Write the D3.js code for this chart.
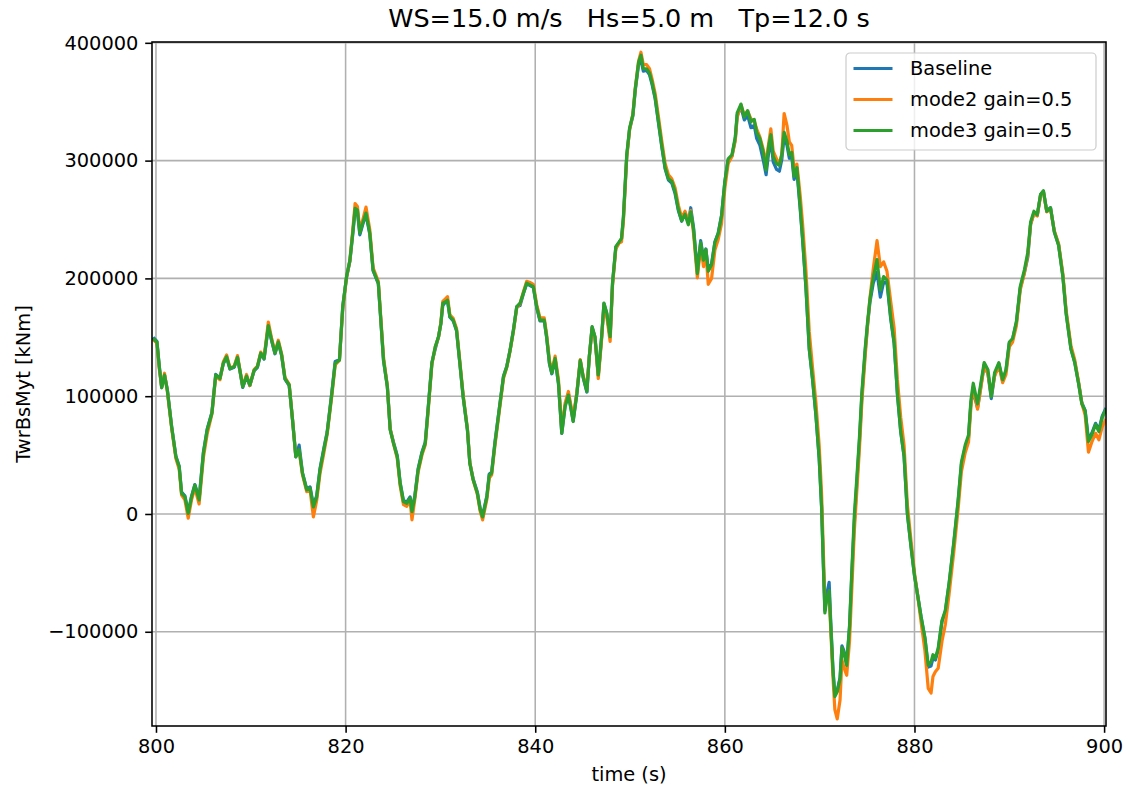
<!DOCTYPE html>
<html>
<head>
<meta charset="utf-8">
<script src="https://cdn.jsdelivr.net/npm/d3@7"></script>
<style>
  body { margin: 0; background: #fff; }
  svg { display: block; font-family: "DejaVu Sans", sans-serif; }
</style>
</head>
<body>
<svg id="chart" width="1130" height="791"></svg>
<script>
// time axis (s), shared by all three runs
const time = [
  799.7, 800.1, 800.35, 800.6, 800.9, 801.2, 801.65, 802.1, 802.45, 802.7,
  803.05, 803.4, 803.75, 804.1, 804.55, 805.0, 805.4, 805.9, 806.3, 806.75,
  807.1, 807.45, 807.8, 808.25, 808.6, 808.85, 809.15, 809.55, 809.9, 810.35,
  810.7, 811.05, 811.4, 811.85, 812.2, 812.55, 812.9, 813.25, 813.6, 814.05,
  814.4, 814.75, 815.1, 815.45, 815.9, 816.25, 816.6, 816.95, 817.3, 817.7,
  818.05, 818.55, 818.9, 819.35, 819.7, 820.1, 820.45, 820.75, 821.0, 821.25,
  821.5, 821.85, 822.15, 822.55, 822.9, 823.45, 824.0, 824.4, 824.7, 825.05,
  825.45, 825.75, 826.1, 826.45, 826.8, 827.0, 827.3, 827.65, 828.05, 828.4,
  828.7, 829.1, 829.45, 829.8, 830.05, 830.25, 830.5, 830.75, 831.0, 831.35,
  831.7, 832.05, 832.4, 832.85, 833.1, 833.45, 833.9, 834.2, 834.45, 834.9,
  835.15, 835.4, 835.75, 836.2, 836.65, 837.0, 837.35, 837.7, 838.05, 838.4,
  838.75, 839.1, 839.45, 839.8, 840.15, 840.5, 840.95, 841.2, 841.5, 841.75,
  842.1, 842.45, 842.8, 843.15, 843.5, 843.85, 844.0, 844.4, 844.75, 845.05,
  845.45, 845.7, 846.0, 846.3, 846.65, 847.0, 847.25, 847.55, 847.9, 848.15,
  848.5, 848.85, 849.1, 849.3, 849.65, 849.95, 850.3, 850.55, 850.9, 851.15,
  851.4, 851.75, 852.05, 852.3, 852.65, 853.0, 853.35, 853.7, 854.05, 854.4,
  854.75, 855.1, 855.45, 855.8, 856.15, 856.4, 856.7, 857.1, 857.45, 857.75,
  858.0, 858.25, 858.6, 858.95, 859.3, 859.65, 860.0, 860.35, 860.75, 861.1,
  861.3, 861.7, 862.05, 862.4, 862.75, 863.1, 863.35, 863.7, 864.05, 864.35,
  864.6, 864.85, 865.1, 865.45, 865.75, 866.0, 866.25, 866.55, 866.8, 867.05,
  867.3, 867.6, 867.95, 868.2, 868.55, 868.9, 869.25, 869.6, 869.95, 870.2,
  870.4, 870.55, 870.75, 871.0, 871.15, 871.4, 871.6, 871.85, 872.15, 872.35,
  872.55, 872.85, 873.15, 873.4, 873.65, 873.9, 874.2, 874.45, 874.8, 875.05,
  875.3, 875.65, 876.05, 876.4, 876.75, 877.1, 877.5, 877.85, 878.2, 878.55,
  878.9, 879.25, 879.65, 880.0, 880.35, 880.7, 881.1, 881.45, 881.75, 881.95,
  882.2, 882.5, 882.9, 883.25, 883.65, 884.15, 884.6, 884.95, 885.35, 885.7,
  885.95, 886.2, 886.65, 887.0, 887.35, 887.75, 888.1, 888.45, 888.9, 889.3,
  889.65, 890.0, 890.35, 890.75, 891.15, 891.6, 891.95, 892.25, 892.6, 892.95,
  893.3, 893.6, 893.95, 894.35, 894.75, 895.2, 895.65, 896.0, 896.5, 896.9,
  897.3, 897.65, 898.0, 898.35, 898.7, 899.1, 899.45, 899.8, 900.2
];

// TwrBsMyt [kNm]
const baseline = [
  150000, 146500, 125500, 107500, 118000, 105500, 74500, 49000, 40500, 18500,
  15500, 1500, 15000, 25000, 13000, 52500, 72000, 86500, 118500, 115500,
  127500, 133000, 123000, 124500, 132500, 121500, 107500, 116500, 109000, 121500,
  124500, 136000, 131500, 159000, 147000, 136000, 145500, 134500, 114500, 109000,
  80000, 48500, 58500, 35000, 21000, 23000, 7500, 15500, 38500, 55500,
  69500, 103500, 129500, 131000, 176500, 201000, 214500, 237000, 257500, 256000,
  237000, 247000, 254000, 237500, 206500, 195500, 130000, 108500, 72000, 61000,
  49500, 27000, 11500, 10000, 14500, 3000, 15500, 38500, 52500, 61000,
  89500, 128500, 140000, 150500, 161500, 177000, 179500, 181000, 167000, 164000,
  155500, 127500, 99000, 71000, 43500, 30000, 18500, 4500, -1500, 15500,
  34000, 35500, 61000, 89000, 117000, 125500, 139500, 156500, 176000, 177000,
  187000, 195500, 194000, 192500, 175500, 164000, 164000, 150000, 127500, 119000,
  131500, 110500, 68500, 92000, 102000, 86000, 79000, 103000, 130000, 116000,
  103500, 133500, 158500, 150000, 117500, 150000, 178500, 170000, 150000, 195500,
  226500, 230500, 233500, 251000, 303500, 326500, 338000, 359500, 381500, 385500,
  376000, 376500, 373000, 365500, 352500, 332000, 311500, 293000, 283500, 281000,
  272000, 257500, 248500, 256000, 247000, 260000, 243000, 206000, 232000, 216500,
  225000, 207500, 212500, 231000, 238500, 253500, 282000, 300500, 304000, 318500,
  338500, 345500, 334500, 338500, 328000, 330000, 319000, 313000, 300500, 288000,
  305500, 318000, 299000, 292500, 291000, 300500, 320500, 313000, 302000, 304000,
  284000, 291500, 258500, 232500, 192000, 140000, 114000, 84000, 47000, 6500,
  -45500, -82000, -68000, -58000, -88000, -131000, -154000, -150000, -139000, -112000,
  -116000, -127000, -96000, -50000, -8000, 24000, 62000, 100000, 138000, 160500,
  179500, 196000, 205000, 184000, 197000, 196000, 165000, 145000, 101500, 69500,
  49000, 500, -28500, -52000, -69500, -87500, -105500, -130000, -129000, -122500,
  -124000, -115500, -91500, -83000, -59500, -25000, 10000, 42000, 56500, 65000,
  94000, 104000, 90000, 108500, 126500, 119000, 98000, 117500, 127500, 113000,
  121500, 145000, 148500, 162500, 191500, 205000, 218000, 246000, 255500, 253500,
  271000, 274000, 257000, 260000, 239500, 228500, 202000, 170500, 140500, 129000,
  111500, 94500, 88000, 63000, 68500, 77000, 71500, 83000, 90000
];

const mode2 = [
  148000, 145000, 123000, 108000, 119500, 104000, 73000, 47000, 38000, 16000,
  12000, -3500, 12000, 22000, 8500, 48000, 68000, 85000, 117000, 114000,
  129000, 135000, 124000, 125500, 134500, 122500, 108500, 118500, 109000, 122500,
  125500, 137500, 132500, 163000, 149000, 137000, 147500, 136000, 116000, 110000,
  80500, 49000, 53500, 33500, 19000, 20500, -2500, 11500, 34500, 51500,
  67500, 100500, 126500, 130500, 174000, 201000, 215000, 240500, 263500, 261000,
  240500, 251000, 260500, 241500, 209000, 197500, 133000, 109000, 72500, 60000,
  47000, 24000, 8000, 6500, 11500, -5000, 12500, 35500, 50000, 58500,
  86500, 127000, 141500, 150000, 162500, 180500, 182500, 184500, 169000, 166000,
  157500, 129500, 101000, 72500, 44000, 29000, 16500, 2000, -5000, 12500,
  30500, 33000, 58000, 86500, 115000, 124500, 138500, 155000, 175000, 178500,
  188500, 197500, 196500, 195000, 178000, 166500, 166500, 152500, 130500, 121500,
  134000, 114000, 71500, 94000, 104000, 88000, 81000, 104000, 131000, 117500,
  107000, 133000, 157500, 150000, 115000, 148000, 176500, 167500, 146500, 193500,
  225000, 230000, 231000, 248500, 302500, 326000, 339500, 361000, 384500, 392000,
  381500, 381500, 378000, 370000, 357000, 337000, 316500, 297500, 288000, 284500,
  277000, 262000, 251500, 257000, 247500, 257500, 238000, 200500, 228000, 210000,
  222500, 195000, 200000, 224000, 233000, 246500, 276500, 297500, 303500, 317000,
  336500, 347500, 338500, 342000, 335500, 333500, 327000, 320000, 309500, 297000,
  313500, 327000, 308000, 301500, 297000, 305000, 340000, 330000, 316000, 313000,
  293500, 297000, 270000, 246000, 207000, 155000, 124000, 95000, 58000, 18000,
  -35000, -76000, -74000, -70500, -95000, -138000, -166000, -174000, -158000, -124000,
  -130000, -137000, -108000, -62000, -15000, 17000, 56000, 95000, 134000, 160000,
  183000, 208000, 232000, 210000, 214000, 206000, 180000, 158000, 114000, 82000,
  58500, 8000, -24000, -50000, -70000, -92000, -116000, -148000, -152000, -138000,
  -134000, -131000, -108000, -94000, -68000, -32000, 4000, 36000, 52000, 61000,
  91000, 108000, 89000, 107000, 126000, 119000, 101000, 117000, 126000, 111500,
  118500, 142000, 146000, 160000, 190000, 205000, 220000, 246000, 255000, 253000,
  270500, 273500, 256500, 259000, 240500, 229500, 204000, 172500, 143000, 131000,
  112500, 94000, 84000, 52500, 61000, 68500, 63000, 74000, 80500
];

const mode3 = [
  149000, 146000, 125000, 107000, 118000, 105000, 74000, 48500, 40000, 17500,
  14500, 500, 14500, 24500, 12000, 51500, 71500, 85500, 118000, 115000,
  128000, 133500, 123500, 125000, 133000, 122000, 108000, 117000, 109500, 122000,
  125000, 136500, 132000, 160000, 147500, 136500, 146000, 135000, 115000, 109500,
  80000, 48500, 54500, 34500, 20500, 22000, 6000, 14500, 37500, 54500,
  68500, 102500, 128000, 130500, 176000, 201500, 215500, 238500, 259500, 258000,
  238500, 248000, 255500, 238500, 207000, 196000, 130500, 108000, 71500, 60000,
  48500, 26000, 10500, 9000, 13500, 2000, 14500, 37500, 51500, 60000,
  88500, 128000, 142000, 150500, 162000, 179000, 180000, 181500, 167500, 164500,
  156000, 128000, 99500, 71500, 43000, 29000, 17500, 3500, -2500, 14500,
  33000, 34500, 60000, 88500, 116500, 125000, 139000, 156000, 176000, 179000,
  187500, 196000, 194500, 193000, 176000, 164500, 164500, 150500, 128000, 119500,
  132000, 111000, 68500, 91000, 101000, 85500, 78500, 102500, 130500, 116500,
  104000, 133500, 159000, 150500, 118000, 150500, 179000, 170500, 150500, 196000,
  227000, 231000, 234000, 252500, 305000, 327500, 339000, 361000, 383500, 389500,
  378000, 378000, 374500, 367000, 353500, 333000, 312500, 294000, 284500, 282500,
  273500, 258500, 249000, 254500, 245500, 256500, 241500, 204000, 230500, 215500,
  224500, 206000, 211500, 230500, 238000, 253000, 282500, 301500, 305000, 320000,
  340500, 348000, 337000, 342500, 333000, 335000, 324000, 318500, 307000, 292000,
  311000, 322000, 303500, 297500, 296000, 305000, 324000, 316500, 305000, 307000,
  286500, 294000, 260500, 234000, 193000, 140500, 114500, 84500, 47000, 6000,
  -46500, -84000, -72500, -65000, -91500, -132500, -155000, -151000, -140000, -113500,
  -117500, -128500, -95000, -46500, -1500, 28500, 66000, 103000, 140500, 163000,
  182000, 200500, 216000, 190000, 201500, 198500, 166500, 146000, 102000, 70000,
  49500, 0, -29000, -52500, -70000, -87500, -105000, -128500, -125500, -119500,
  -122500, -114000, -90500, -82000, -58500, -23500, 11500, 44000, 58500, 67000,
  96500, 111000, 93500, 111000, 128500, 122500, 99500, 120000, 128500, 114000,
  122500, 146000, 149000, 163500, 193000, 207500, 222000, 248000, 257000, 254000,
  271500, 274500, 257000, 260000, 239500, 228000, 201500, 169500, 140000, 128500,
  111000, 93500, 87500, 61500, 67000, 76000, 70000, 82000, 89000
];

const seriesNames = ["Baseline", "mode2 gain=0.5", "mode3 gain=0.5"];
const seriesColors = ["#1f77b4", "#ff7f0e", "#2ca02c"];
const xTicks = [800, 820, 840, 860, 880, 900];
const yTicks = [-100000, 0, 100000, 200000, 300000, 400000];
const titleText = "WS=15.0 m/s   Hs=5.0 m   Tp=12.0 s";

const FONT = 19.4;
const plot = {left: 152, right: 1106, top: 42, bottom: 726};

const svg = d3.select('#chart');

const x = d3.scaleLinear().domain([799.58, 900.2]).range([plot.left, plot.right]);
const y = d3.scaleLinear().domain([-180000, 400700]).range([plot.bottom, plot.top]);

// grid
var grid = svg.append('g');
grid.selectAll('line.vg').data(xTicks).enter().append('line')
  .attr('x1', d => x(d)).attr('x2', d => x(d))
  .attr('y1', plot.top).attr('y2', plot.bottom)
  .attr('stroke', '#b0b0b0').attr('stroke-width', 1.56);
grid.selectAll('line.hg').data(yTicks).enter().append('line')
  .attr('x1', plot.left).attr('x2', plot.right)
  .attr('y1', d => y(d)).attr('y2', d => y(d))
  .attr('stroke', '#b0b0b0').attr('stroke-width', 1.56);

svg.append('clipPath').attr('id', 'plotclip').append('rect')
  .attr('x', plot.left).attr('y', plot.top)
  .attr('width', plot.right - plot.left).attr('height', plot.bottom - plot.top);

const series = [baseline, mode2, mode3];
const line = d3.line().x((d, i) => x(time[i])).y(d => y(d));

svg.append('g').attr('clip-path', 'url(#plotclip)')
  .selectAll('path').data(series).enter().append('path')
  .attr('d', d => line(d))
  .attr('fill', 'none')
  .attr('stroke', (d, i) => seriesColors[i])
  .attr('stroke-width', 3.2)
  .attr('stroke-linejoin', 'round');

// axes
var xAxis = svg.append('g').attr('transform', `translate(0,${plot.bottom})`)
  .call(d3.axisBottom(x).tickValues(xTicks).tickSize(6.8).tickPadding(6.8).tickFormat(d3.format('d')));
var yAxis = svg.append('g').attr('transform', `translate(${plot.left},0)`)
  .call(d3.axisLeft(y).tickValues(yTicks).tickSize(6.8).tickPadding(6.8).tickFormat(d3.format('d')));
[xAxis, yAxis].forEach(ax => {
  ax.select('.domain').remove();
  ax.attr('font-family', '"DejaVu Sans", sans-serif').attr('font-size', FONT);
  ax.selectAll('line').attr('stroke', '#000').attr('stroke-width', 1.56);
  ax.selectAll('text').attr('fill', '#000');
});

// spines
svg.append('rect')
  .attr('x', plot.left).attr('y', plot.top)
  .attr('width', plot.right - plot.left).attr('height', plot.bottom - plot.top)
  .attr('fill', 'none').attr('stroke', '#000').attr('stroke-width', 1.56);

// labels
svg.append('text')
  .attr('x', (plot.left + plot.right) / 2).attr('y', 27)
  .attr('text-anchor', 'middle').attr('font-size', 25.5)
  .style('white-space', 'pre')
  .text(titleText);
svg.append('text')
  .attr('x', (plot.left + plot.right) / 2).attr('y', 781)
  .attr('text-anchor', 'middle').attr('font-size', FONT)
  .text('time (s)');
svg.append('text')
  .attr('transform', `translate(30,${(plot.top + plot.bottom) / 2}) rotate(-90)`)
  .attr('text-anchor', 'middle').attr('font-size', FONT)
  .text('TwrBsMyt [kNm]');

// legend
var legend = svg.append('g').attr('transform', 'translate(846,53)');
legend.append('rect')
  .attr('width', 250).attr('height', 97).attr('rx', 4)
  .attr('fill', '#fff').attr('fill-opacity', 0.8)
  .attr('stroke', '#cccccc').attr('stroke-width', 1.2);
var rows = legend.selectAll('g.row').data(seriesNames).enter().append('g')
  .attr('transform', (d, i) => `translate(0,${15.5 + i * 31})`);
rows.append('line')
  .attr('x1', 7.5).attr('x2', 46.5)
  .attr('stroke', (d, i) => seriesColors[i]).attr('stroke-width', 3.2);
rows.append('text')
  .attr('x', 64).attr('dy', '0.35em').attr('font-size', FONT)
  .text(d => d);
</script>
</body>
</html>
